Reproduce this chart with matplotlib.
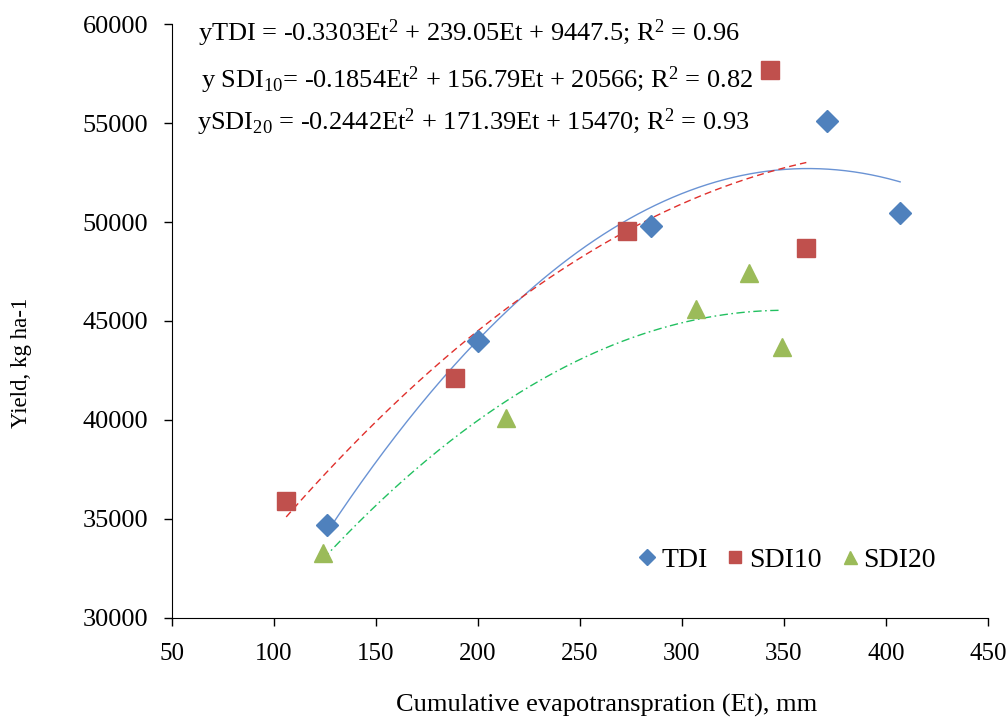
import numpy as np
import matplotlib
matplotlib.use("Agg")
import matplotlib.pyplot as plt

plt.rcParams['font.family'] = ['Liberation Serif', 'DejaVu Serif']
plt.rcParams['mathtext.fontset'] = 'custom'
plt.rcParams['mathtext.rm'] = 'Liberation Serif'
plt.rcParams['mathtext.it'] = 'Liberation Serif:italic'

# measured points
tdi_et = [126, 200, 285, 371, 407]
tdi_yield = [34700, 44000, 49800, 55100, 50450]
sdi10_et = [106, 189, 273, 343, 361]
sdi10_yield = [35900, 42100, 49550, 57700, 48700]
sdi20_et = [124, 214, 307, 333, 349]
sdi20_yield = [33300, 40100, 45600, 47400, 43700]

# quadratic trendline coefficients (a, b, c) as printed on the chart
tdi_coef = [-0.3303, 239.05, 9447.5]
sdi10_coef = [-0.1854, 156.79, 20566]
sdi20_coef = [-0.2442, 171.39, 15470]

blue = '#4F81BD'
red = '#C0504D'
green = '#9BBB59'

fig = plt.figure(figsize=(10.08, 7.19), dpi=100)
ax = fig.add_axes([0.1706, 0.1405, 0.8094, 0.8261])


def trend(ax, et, coef, **kw):
    xs = np.linspace(min(et), max(et), 200)
    ax.plot(xs, np.polyval(coef, xs), **kw)


trend(ax, tdi_et, tdi_coef, color='#6A93D4', lw=1.0, zorder=2)
trend(ax, sdi10_et, sdi10_coef, color='#E0302C', lw=1.0, dashes=(5, 3), zorder=2)
trend(ax, sdi20_et, sdi20_coef, color='#22C060', lw=1.0, dashes=(6, 2.5, 1.2, 2.5), zorder=2)

ax.plot(tdi_et, tdi_yield, 'D', color=blue, ms=11.5, ls='none', label='TDI', zorder=3)
ax.plot(sdi10_et, sdi10_yield, 's', color=red, ms=12.5, ls='none', label='SDI10', zorder=3)
ax.plot(sdi20_et, sdi20_yield, '^', color=green, ms=13, ls='none', label='SDI20', zorder=3)

ax.set_xlim(50, 450)
ax.set_ylim(30000, 60000)
ax.set_xticks(np.arange(50, 451, 50))
ax.set_yticks(np.arange(30000, 60001, 5000))
ax.spines['top'].set_visible(False)
ax.spines['right'].set_visible(False)
ax.tick_params(direction='out', length=6, width=1)
ax.tick_params(axis='x', labelsize=18, pad=12)
ax.tick_params(axis='y', labelsize=19, pad=11)

ax.set_xlabel('Cumulative evapotranspration (Et), mm', fontsize=19)
ax.xaxis.set_label_coords(0.533, -0.128)
ax.set_ylabel('Yield, kg ha-1', fontsize=16.5)
ax.yaxis.set_label_coords(-0.172, 0.43)

eq_kw = dict(transform=ax.transAxes, fontsize=19, ha='left', va='center')
ax.text(0.032, 0.985, r'yTDI = -0.3303Et$^{\mathrm{2}}$ + 239.05Et + 9447.5; R$^{\mathrm{2}}$ = 0.96', **eq_kw)
ax.text(0.035, 0.906, r'y SDI$_{\mathrm{10}}$= -0.1854Et$^{\mathrm{2}}$ + 156.79Et + 20566; R$^{\mathrm{2}}$ = 0.82', **eq_kw)
ax.text(0.031, 0.835, r'ySDI$_{\mathrm{20}}$ = -0.2442Et$^{\mathrm{2}}$ + 171.39Et + 15470; R$^{\mathrm{2}}$ = 0.93', **eq_kw)

ax.legend(loc='center right', bbox_to_anchor=(0.967, 0.0976), ncol=3, frameon=False,
          fontsize=20, handletextpad=0.1, columnspacing=0.6, markerscale=0.72,
          handlelength=0.8)

fig.savefig('out.png', dpi=100)
